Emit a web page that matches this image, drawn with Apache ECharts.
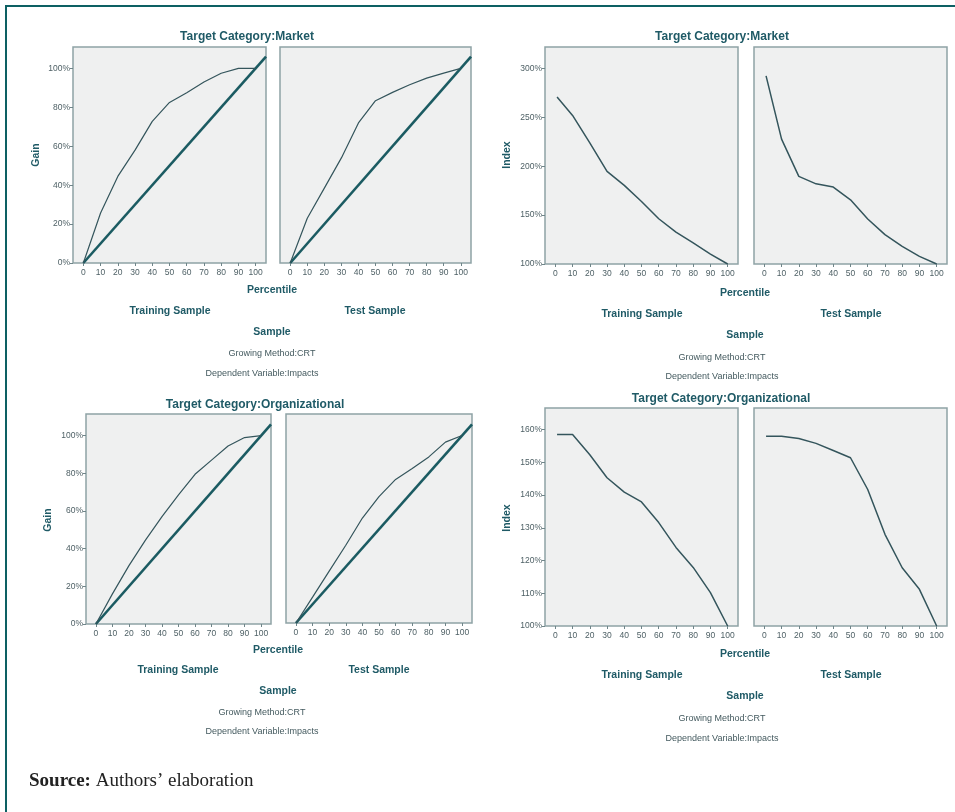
<!DOCTYPE html>
<html>
<head>
<meta charset="utf-8">
<script src="https://cdn.jsdelivr.net/npm/echarts@6/dist/echarts.min.js"></script>
<style>
  html, body { margin: 0; padding: 0; background: #fff; }
  #main { width: 955px; height: 812px; }
</style>
</head>
<body>
<div id="main"></div>
<script>
// 数据
var gainPct = [0, 10, 20, 30, 40, 50, 60, 70, 80, 90, 100];
var indexPct = [1, 10, 20, 30, 40, 50, 60, 70, 80, 90, 100];
var xTicks = [0, 10, 20, 30, 40, 50, 60, 70, 80, 90, 100];
var gainTicks = [0, 20, 40, 60, 80, 100];
var indexMarketTicks = [100, 150, 200, 250, 300];
var indexOrgTicks = [100, 110, 120, 130, 140, 150, 160];
var diagonal = [[0, 0], [106, 106]];

var gainMarketTrain = [0, 25.7, 44.5, 58, 72.8, 82.5, 87.5, 93, 97.5, 100, 100];
var gainMarketTest = [0, 23, 38.5, 54, 72, 83.4, 87.7, 91.6, 95, 97.6, 100];
var indexMarketTrain = [270.8, 252, 224, 194.7, 180.4, 164, 146.3, 132.7, 121.5, 110.2, 100];
var indexMarketTest = [292.5, 227.8, 189.6, 182, 178.7, 165.7, 146, 130, 118, 107.8, 100];
var gainOrgTrain = [0, 16, 31, 44.5, 57, 68.6, 79.5, 87, 94.5, 99, 100];
var gainOrgTest = [0, 13.8, 27.7, 41.5, 56, 67.4, 76.6, 82.4, 88.6, 96.5, 100];
var indexOrgTrain = [158.5, 158.5, 152.3, 145.3, 140.9, 137.9, 131.6, 124, 117.9, 110.2, 100];
var indexOrgTest = [158, 158, 157.3, 155.8, 153.6, 151.4, 141.7, 128, 117.8, 111.2, 100];

var teal = '#1f5a66';
var tickColor = '#4f6166';
var lineColor = '#34555c';
var diagColor = '#1b5b62';
var font = 'Liberation Sans, Arial, sans-serif';

function pairs(xs, ys) {
  return xs.map(function (x, i) { return [x, ys[i]]; });
}

// 8个面板的位置
var panels = [
  { left: 73, top: 47, width: 193, height: 216, yMin: 0, yMax: 111, ticks: gainTicks, showY: true },
  { left: 280, top: 47, width: 191, height: 216, yMin: 0, yMax: 111, ticks: gainTicks, showY: false },
  { left: 545, top: 47, width: 193, height: 217, yMin: 100, yMax: 322, ticks: indexMarketTicks, showY: true },
  { left: 754, top: 47, width: 193, height: 217, yMin: 100, yMax: 322, ticks: indexMarketTicks, showY: false },
  { left: 86, top: 414, width: 185, height: 210, yMin: 0, yMax: 111.5, ticks: gainTicks, showY: true },
  { left: 286, top: 414, width: 186, height: 209, yMin: 0, yMax: 111.5, ticks: gainTicks, showY: false },
  { left: 545, top: 408, width: 193, height: 218, yMin: 100, yMax: 166.6, ticks: indexOrgTicks, showY: true },
  { left: 754, top: 408, width: 193, height: 218, yMin: 100, yMax: 166.6, ticks: indexOrgTicks, showY: false }
];

var grids = [], xAxes = [], yAxes = [];
panels.forEach(function (p, i) {
  grids.push({
    left: p.left, top: p.top, width: p.width, height: p.height,
    show: true, backgroundColor: '#eff0f0', borderColor: '#8fa2a5', borderWidth: 1.5
  });
  xAxes.push({
    type: 'value', gridIndex: i, min: -6, max: 106, position: 'bottom',
    axisLine: { show: false, onZero: false },
    splitLine: { show: false },
    axisTick: { show: true, length: 3, customValues: xTicks, lineStyle: { color: '#6f8589' } },
    axisLabel: { customValues: xTicks, color: tickColor, fontSize: 8.5, fontFamily: font, margin: 5 }
  });
  yAxes.push({
    type: 'value', gridIndex: i, min: p.yMin, max: p.yMax, position: 'left',
    axisLine: { show: false, onZero: false },
    splitLine: { show: false },
    axisTick: { show: p.showY, length: 3, customValues: p.ticks, lineStyle: { color: '#6f8589' } },
    axisLabel: {
      show: p.showY, customValues: p.ticks, color: tickColor, fontSize: 8.5, fontFamily: font, margin: 3,
      formatter: '{value}%'
    }
  });
});

function curve(i, data, width) {
  return {
    type: 'line', xAxisIndex: i, yAxisIndex: i, data: data,
    symbol: 'none', silent: true, clip: true,
    lineStyle: { color: lineColor, width: width }
  };
}
function diag(i) {
  return {
    type: 'line', xAxisIndex: i, yAxisIndex: i, data: diagonal,
    symbol: 'none', silent: true, clip: true,
    lineStyle: { color: diagColor, width: 2.6 }
  };
}

var series = [
  diag(0), curve(0, pairs(gainPct, gainMarketTrain), 1.2),
  diag(1), curve(1, pairs(gainPct, gainMarketTest), 1.2),
  curve(2, pairs(indexPct, indexMarketTrain), 1.5),
  curve(3, pairs(indexPct, indexMarketTest), 1.5),
  diag(4), curve(4, pairs(gainPct, gainOrgTrain), 1.2),
  diag(5), curve(5, pairs(gainPct, gainOrgTest), 1.2),
  curve(6, pairs(indexPct, indexOrgTrain), 1.5),
  curve(7, pairs(indexPct, indexOrgTest), 1.5)
];

// 文字
function txt(s, x, y, size, bold, rot, color) {
  return {
    type: 'text', x: x, y: y, rotation: rot || 0, silent: true,
    style: {
      text: s, fill: color || teal, align: 'center', verticalAlign: 'middle',
      font: (bold ? 'bold ' : '') + size + 'px ' + font
    }
  };
}

var graphics = [
  { type: 'rect', silent: true, shape: { x: 6, y: 6, width: 1200, height: 1200 },
    style: { fill: 'none', stroke: '#0d6063', lineWidth: 2 } },
  txt('Target Category:Market', 247, 37, 12, true),
  txt('Target Category:Market', 722, 37, 12, true),
  txt('Target Category:Organizational', 255, 405, 12, true),
  txt('Target Category:Organizational', 721, 399, 12, true),
  txt('Gain', 36, 155, 10.5, true, Math.PI / 2),
  txt('Index', 507, 155, 10.5, true, Math.PI / 2),
  txt('Gain', 48, 520, 10.5, true, Math.PI / 2),
  txt('Index', 507, 518, 10.5, true, Math.PI / 2),
  txt('Percentile', 272, 290, 10.5, true),
  txt('Percentile', 745, 293, 10.5, true),
  txt('Percentile', 278, 650, 10.5, true),
  txt('Percentile', 745, 654, 10.5, true),
  txt('Training Sample', 170, 311, 10.5, true),
  txt('Test Sample', 375, 311, 10.5, true),
  txt('Training Sample', 642, 314, 10.5, true),
  txt('Test Sample', 851, 314, 10.5, true),
  txt('Training Sample', 178, 670, 10.5, true),
  txt('Test Sample', 379, 670, 10.5, true),
  txt('Training Sample', 642, 675, 10.5, true),
  txt('Test Sample', 851, 675, 10.5, true),
  txt('Sample', 272, 332, 10.5, true),
  txt('Sample', 745, 335, 10.5, true),
  txt('Sample', 278, 691, 10.5, true),
  txt('Sample', 745, 696, 10.5, true),
  txt('Growing Method:CRT', 272, 354, 9, false, 0, '#445a5f'),
  txt('Dependent Variable:Impacts', 262, 374, 9, false, 0, '#445a5f'),
  txt('Growing Method:CRT', 722, 358, 9, false, 0, '#445a5f'),
  txt('Dependent Variable:Impacts', 722, 377, 9, false, 0, '#445a5f'),
  txt('Growing Method:CRT', 262, 713, 9, false, 0, '#445a5f'),
  txt('Dependent Variable:Impacts', 262, 732, 9, false, 0, '#445a5f'),
  txt('Growing Method:CRT', 722, 719, 9, false, 0, '#445a5f'),
  txt('Dependent Variable:Impacts', 722, 739, 9, false, 0, '#445a5f'),
  {
    type: 'text', x: 29, y: 781, silent: true,
    style: {
      text: '{b|Source:} Authors\u2019 elaboration',
      fill: '#222', verticalAlign: 'middle',
      font: '19px Liberation Serif, Times New Roman, serif',
      rich: { b: { fontWeight: 'bold', fontSize: 19, fontFamily: 'Liberation Serif, Times New Roman, serif', fill: '#222' } }
    }
  }
];

var chart = echarts.init(document.getElementById('main'));
chart.setOption({
  animation: false,
  backgroundColor: '#fff',
  grid: grids,
  xAxis: xAxes,
  yAxis: yAxes,
  series: series,
  graphic: graphics
});
</script>
</body>
</html>
